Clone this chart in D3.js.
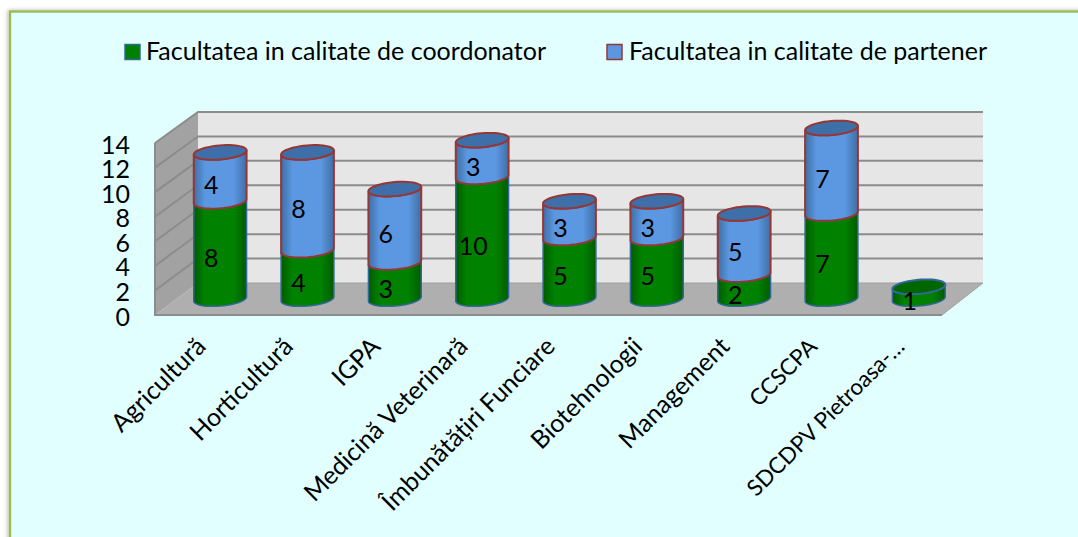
<!DOCTYPE html>
<html><head><meta charset="utf-8">
<script src="https://cdn.jsdelivr.net/npm/d3@7"></script>
<style>html,body{margin:0;padding:0;background:#fff}svg{display:block}text{font-family:Lato,"Open Sans",sans-serif;fill:#000}</style>
</head><body><svg id="c" width="1078" height="537"></svg>
<script>
const categories=["Agricultură","Horticultură","IGPA","Medicină Veterinară","Îmbunătățiri Funciare","Biotehnologii","Management","CCSCPA","SDCDPV Pietroasa-…"];
const coordonator=[8,4,3,10,5,5,2,7,1];
const partener=[4,8,6,3,3,3,5,7,0];
const seriesNames=["Facultatea in calitate de coordonator","Facultatea in calitate de partener"];
const yTicks=[0,2,4,6,8,10,12,14];

const svg=d3.select("#c");
const defs=svg.append("defs");
function grad(id,edge,mid){
  const g=defs.append("linearGradient").attr("id",id).attr("x1",0).attr("x2",1).attr("y1",0).attr("y2",0);
  [[0,edge],[.22,mid],[.75,mid],[1,edge]].forEach(s=>g.append("stop").attr("offset",s[0]).attr("stop-color",s[1]));
}
grad("gG","#005c00","#008200");
grad("gB","#3f6ea6","#5c98e2");
const shadow=defs.append("filter").attr("id","sh").attr("x","-2%").attr("y","-2%").attr("width","104%").attr("height","104%");
shadow.append("feDropShadow").attr("dx",-1).attr("dy",0).attr("stdDeviation",2).attr("flood-color","#000").attr("flood-opacity",.3);

svg.append("rect").attr("x",10).attr("y",11.5).attr("width",1100).attr("height",560)
  .attr("fill","#e1ffff").attr("stroke","#9bbb59").attr("stroke-width",2.4).attr("filter","url(#sh)");

const yFront=d3.scaleLinear().domain([0,14]).range([315,143]);
const yBack=d3.scaleLinear().domain([0,14]).range([283,112]);
const yCyl=d3.scaleLinear().domain([0,14]).range([299,128]);
const x=d3.scaleBand().domain(categories).range([176.5,962.5]);
const xF=[155,942], xB=[198,983];
const poly=d3.line();

// walls and floor
svg.append("path").attr("fill","#e6e6e6").attr("d",poly([[xB[0],yBack(14)],[xB[1],yBack(14)],[xB[1],yBack(0)],[xB[0],yBack(0)]])+"Z");
svg.append("path").attr("fill","#a2a2a2").attr("d",poly([[xF[0],yFront(14)],[xB[0],yBack(14)],[xB[0],yBack(0)],[xF[0],yFront(0)]])+"Z");
svg.append("path").attr("fill","#afafaf").attr("d",poly([[xF[0],yFront(0)],[xB[0],yBack(0)],[xB[1],yBack(0)],[xF[1],yFront(0)]])+"Z");
// gridlines
const gl=svg.append("g").attr("fill","none").attr("stroke","#8c8c8c").attr("stroke-width",2);
yTicks.forEach(t=>{
  if(t>0) gl.append("path").attr("d",poly([[xF[0],yFront(t)],[xB[0],yBack(t)],[xB[1],yBack(t)]]));
});
gl.append("path").attr("d",poly([[xF[0],yFront(14)],[xF[0],yFront(0)],[xF[1],yFront(0)]]));
gl.append("path").attr("stroke-width",1).attr("stroke","#a0a0a0").attr("d",poly([[xF[1],yFront(0)],[xB[1],yBack(0)],[xB[0],yBack(0)]]));

// y tick labels
svg.append("g").selectAll("text").data(yTicks).join("text")
  .attr("x",130).attr("y",t=>yFront(t)+10.5).attr("text-anchor","end")
  .attr("font-size",25).text(t=>t);

// cylinders: outline sampled from the tilted ellipse
const rx=26.5, ry=7, tilt=-5*Math.PI/180;
const t0=Math.atan2(-ry*Math.sin(tilt),rx*Math.cos(tilt));
const ang=d3.range(0,25).map(k=>t0+Math.PI*k/24);
const pt=(cx,cy,t)=>[cx+rx*Math.cos(t)*Math.cos(tilt)-ry*Math.sin(t)*Math.sin(tilt),
                     cy+rx*Math.cos(t)*Math.sin(tilt)+ry*Math.sin(t)*Math.cos(tilt)];
function bodyPath(cx,y0,y1){
  const lower=ang.map(t=>pt(cx,y0,t));
  const upper=ang.slice().reverse().map(t=>pt(cx,y1,t));
  return poly(lower.concat(upper))+"Z";
}
function capPath(cx,cy){
  return poly(d3.range(0,48).map(k=>pt(cx,cy,2*Math.PI*k/48)))+"Z";
}
const cyls=svg.append("g");
categories.forEach((c,i)=>{
  const cx=x(c)+x.bandwidth()/2;
  const a=coordonator[i], b=partener[i];
  const g=cyls.append("g");
  g.append("path").attr("d",bodyPath(cx,yCyl(0),yCyl(a))).attr("fill","url(#gG)").attr("stroke","#33669a").attr("stroke-width",1.5);
  if(b>0){
    g.append("path").attr("d",bodyPath(cx,yCyl(a),yCyl(a+b))).attr("fill","url(#gB)").attr("stroke","#953735").attr("stroke-width",2);
    g.append("path").attr("d",capPath(cx,yCyl(a+b))).attr("fill","#3e6fa8").attr("stroke","#953735").attr("stroke-width",2);
  } else {
    g.append("path").attr("d",capPath(cx,yCyl(a))).attr("fill","#006600").attr("stroke","#33669a").attr("stroke-width",2);
  }
  const lab=(v0,v1)=>g.append("text").attr("x",cx-9).attr("y",(yCyl(v0)+yCyl(v1))/2+17)
     .attr("text-anchor","middle").attr("font-size",25).text(v1-v0);
  lab(0,a);
  if(b>0) lab(a,a+b);
});

// category labels (capitals run wide in this font, so two labels are set a little smaller)
const smallerLabels=new Set(["CCSCPA","SDCDPV Pietroasa-…"]);
svg.append("g").selectAll("text").data(categories).join("text")
  .attr("text-anchor","end").attr("font-size",c=>smallerLabels.has(c)?22.5:25)
  .attr("transform",c=>`translate(${x(c)+x.bandwidth()/2-13},${348}) rotate(-45)`)
  .text(c=>c);

// legend
const lg=svg.append("g");
const lx=[146,629], sx=[125,607], lw=[400,358], lc=["#008000","#5b96e0"], ls=["#33669a","#953735"];
seriesNames.forEach((n,i)=>{
  lg.append("rect").attr("x",sx[i]).attr("y",44.5).attr("width",15).attr("height",15).attr("fill",lc[i]).attr("stroke",ls[i]).attr("stroke-width",1.5);
  lg.append("text").attr("x",lx[i]).attr("y",59.5).attr("font-size",25).attr("textLength",lw[i]).attr("lengthAdjust","spacing").text(n);
});
</script></body></html>
